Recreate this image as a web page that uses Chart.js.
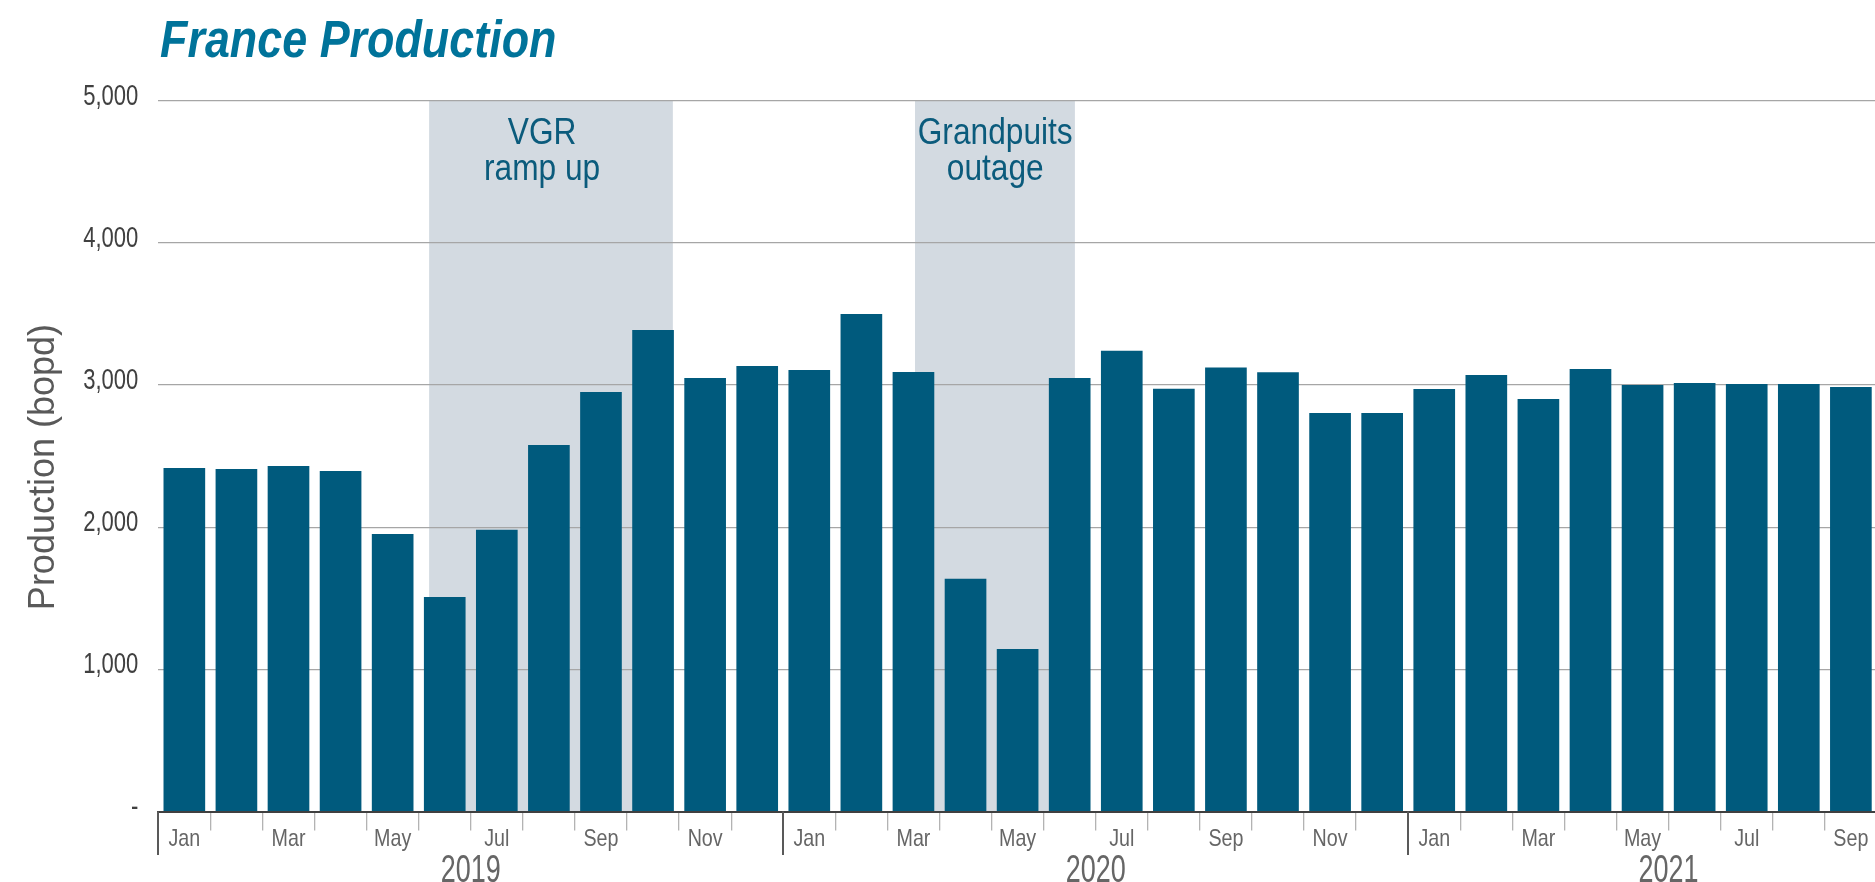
<!DOCTYPE html>
<html>
<head>
<meta charset="utf-8">
<script src="https://cdn.jsdelivr.net/npm/chart.js@4.4.0/dist/chart.umd.min.js"></script>
<style>
html,body{margin:0;padding:0;background:#fff;overflow:hidden;width:1875px;height:882px}
#wrap{position:absolute;left:0;top:0;width:1929px;height:882px}
</style>
</head>
<body>
<div id="wrap"><canvas id="c" width="1929" height="882"></canvas></div>
<script>
// ---- data ----
const chartTitle = 'France Production';
const months = ['Jan','Feb','Mar','Apr','May','Jun','Jul','Aug','Sep','Oct','Nov','Dec',
                'Jan','Feb','Mar','Apr','May','Jun','Jul','Aug','Sep','Oct','Nov','Dec',
                'Jan','Feb','Mar','Apr','May','Jun','Jul','Aug','Sep','Oct'];
const production = [2416, 2409, 2430, 2395, 1952, 1509, 1981, 2578, 2951, 3387, 3049, 3134,
                    3105, 3499, 3091, 1637, 1144, 3049, 3241, 2974, 3122, 3089, 2803, 2803,
                    2972, 3070, 2902, 3112, 3000, 3014, 3007, 3007, 2986, null];
const yearLabels = ['2019', '2020', '2021'];
const yearStart = [0, 12, 24];
const yearEnd = [11, 23, 33];
const yTicks = [0, 1000, 2000, 3000, 4000, 5000];
const yAxisTitle = 'Production (bopd)';
const shadeFrom = [4.7, 14.03];
const shadeTo = [9.38, 17.1];
const shadeLabelAt = [6.87, 15.57];
const shadeText = [['VGR', 'ramp up'], ['Grandpuits', 'outage']];

// ---- style ----
const BAR = '#005A7D';
const SHADE = '#D3DAE1';
const SANS = '"Liberation Sans", Arial, sans-serif';

function catX(xs, p) {
  const a = xs.getPixelForValue(0), b = xs.getPixelForValue(1);
  return a + p * (b - a);
}
function condensedText(ctx, text, x, y, font, sx, color, align) {
  ctx.save();
  ctx.font = font; ctx.fillStyle = color;
  ctx.textBaseline = 'alphabetic'; ctx.textAlign = align;
  ctx.translate(x, y); ctx.scale(sx, 1);
  ctx.fillText(text, 0, 0);
  ctx.restore();
}
// draw the scale's own label items with a horizontal condensing factor
function condenseScale(scale, sx, titleShift) {
  if (scale._condensed) return;
  scale._condensed = true;
  scale.drawLabels = function (chartArea) {
    const ctx = this.ctx;
    const items = this.getLabelItems(chartArea);
    for (const item of items) {
      const o = item.options;
      const label = item.label;
      if (label === '' || label == null) continue;
      ctx.save();
      ctx.translate(o.translation[0], o.translation[1]);
      ctx.rotate(o.rotation || 0);
      ctx.scale(sx, 1);
      ctx.font = item.font.string;
      ctx.fillStyle = o.color;
      ctx.textAlign = o.textAlign;
      ctx.textBaseline = o.textBaseline;
      ctx.fillText(label, 0, item.textOffset);
      ctx.restore();
    }
  };
  if (titleShift) {
    const origTitle = scale.drawTitle;
    scale.drawTitle = function () {
      this.ctx.save();
      this.ctx.translate(0, titleShift);
      origTitle.call(this);
      this.ctx.restore();
    };
  }
}

const decor = {
  id: 'decor',
  afterLayout(chart) {
    condenseScale(chart.scales.x, 0.82, 0);
    condenseScale(chart.scales.y, 0.76, 11);
  },
  beforeDraw(chart) {
    const {ctx, chartArea: ca, scales: {x}} = chart;
    ctx.save();
    ctx.fillStyle = SHADE;
    shadeFrom.forEach((f, i) => {
      const x0 = catX(x, f), x1 = catX(x, shadeTo[i]);
      ctx.fillRect(x0, ca.top, x1 - x0, ca.bottom - ca.top);
    });
    ctx.restore();
  },
  afterDraw(chart) {
    const {ctx, chartArea: ca, scales: {x}} = chart;
    condensedText(ctx, chartTitle, 160, 57, 'italic bold 51px ' + SANS, 0.88, '#00739A', 'left');
    shadeText.forEach((lines, i) => {
      const cx = catX(x, shadeLabelAt[i]);
      lines.forEach((t, j) => condensedText(ctx, t, cx, 144 + j * 36, '36px ' + SANS, 0.88, '#0B5B7C', 'center'));
    });
    ctx.save();
    ctx.strokeStyle = '#595959'; ctx.lineWidth = 2;
    yearStart.forEach((s, i) => {
      const bx = Math.round(catX(x, s - 0.5));
      ctx.beginPath(); ctx.moveTo(bx, ca.bottom); ctx.lineTo(bx, ca.bottom + 43.5); ctx.stroke();
      const cx = (catX(x, s - 0.5) + catX(x, yearEnd[i] + 0.5)) / 2;
      condensedText(ctx, yearLabels[i], cx, 882, '38px ' + SANS, 0.71, '#666666', 'center');
    });
    ctx.restore();
  }
};

new Chart(document.getElementById('c'), {
  type: 'bar',
  data: {
    labels: months,
    datasets: [{ data: production, backgroundColor: BAR, barPercentage: 0.8, categoryPercentage: 1.0 }]
  },
  options: {
    responsive: false,
    animation: false,
    devicePixelRatio: 1,
    layout: { padding: { top: 100.5, left: 0, right: 0, bottom: 0 } },
    plugins: { legend: { display: false }, tooltip: { enabled: false }, title: { display: false } },
    scales: {
      x: {
        offset: true,
        grid: {
          display: true, drawOnChartArea: false, drawTicks: true, tickLength: 19, lineWidth: 1.3, offset: true,
          color: (c) => yearStart.includes(c.index) ? 'rgba(0,0,0,0)' : '#B3B3B3'
        },
        border: { display: true, color: '#404040', width: 2, z: 1 },
        ticks: {
          autoSkip: false, maxRotation: 0, minRotation: 0, padding: -6, color: '#666666',
          font: { family: SANS, size: 24 },
          callback: (v, i) => (i % 2 === 0 ? months[i] : '')
        },
        afterFit: (s) => { s.height = 70.4; }
      },
      y: {
        min: 0, max: 5000,
        afterBuildTicks: (s) => { s.ticks = yTicks.map(v => ({ value: v })); },
        grid: {
          drawTicks: false, lineWidth: 1.3,
          color: (c) => (c.tick && c.tick.value === 0) ? 'rgba(0,0,0,0)' : '#A6A6A6'
        },
        border: { display: false },
        ticks: {
          padding: 20, labelOffset: -4, color: '#404040',
          font: { family: SANS, size: 29 },
          callback: (v) => (v === 0 ? '-' : Number(v).toLocaleString('en-US'))
        },
        title: {
          display: true, text: yAxisTitle, color: '#595959',
          font: { family: SANS, size: 36 }, padding: { top: 22, bottom: 0 }
        },
        afterFit: (s) => { s.width = 158.3; }
      }
    }
  },
  plugins: [decor]
});
</script>
</body>
</html>
